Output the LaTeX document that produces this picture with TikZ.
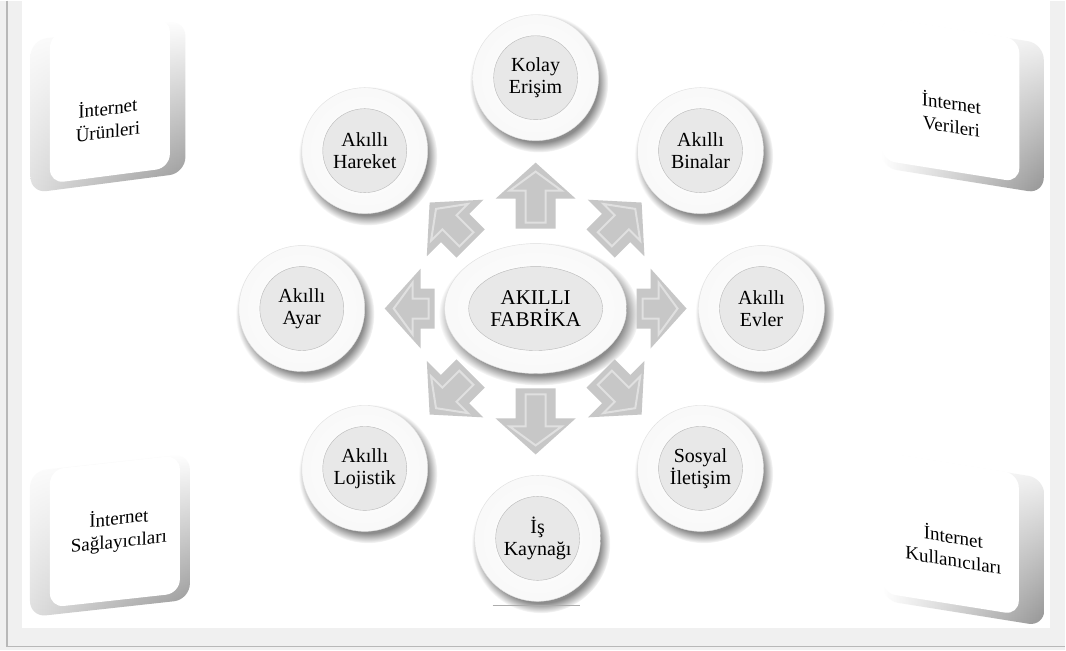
\documentclass[tikz,border=0pt]{standalone}
\usepackage{fontspec}
\setmainfont{Liberation Serif}
\usepackage{tikz}
\usetikzlibrary{shadows,fadings,shapes.geometric}
\definecolor{bggray}{rgb}{0.94,0.94,0.94}
\definecolor{linegray}{rgb}{0.72,0.72,0.72}
\definecolor{arrowgray}{rgb}{0.78,0.78,0.78}
\definecolor{arrowlite}{rgb}{0.88,0.88,0.88}
\definecolor{innergray}{rgb}{0.91,0.91,0.91}
\definecolor{sidegray}{rgb}{0.58,0.58,0.58}
\pgfdeclareradialshading{plate}{\pgfpoint{0bp}{0bp}}{color(0bp)=(white); color(30bp)=(white!97!black); color(50bp)=(white!82!black)}

\begin{document}
\begin{tikzpicture}[x=1pt,y=1pt,
  plate node/.style={circle,shading=plate,draw=gray!25,minimum size=126pt,inner sep=0pt,
    circular drop shadow={shadow xshift=3pt,shadow yshift=-5pt,fill=black!45}},
  word node/.style={circle,fill=innergray,draw=gray!55,minimum size=84pt,inner sep=0pt,align=center,
    font=\fontsize{20}{22}\selectfont},
  back node/.style={rectangle,rounded corners=16pt,path fading=north},
  face node/.style={rectangle,rounded corners=14pt,fill=white},
  label node/.style={align=center,inner sep=0pt,font=\fontsize{19}{23}\selectfont}]

  % frame
  \fill[bggray] (0,0) rectangle (1066,650);
  \fill[white] (22,22) rectangle (1051,650);
  \draw[linegray,line width=1.5pt] (7,650) -- (7,4) -- (1066,4);

  % internet boxes
  \node[back node,left color=gray!25,right color=sidegray,minimum width=155pt,minimum height=153pt,yslant=0.13] (urunB) at (108,544) {};
  \node[face node,minimum width=120pt,minimum height=150pt,yslant=0.13] (urunF) at (110,550) {};
  \node[label node,yslant=0.13] (urun) at (108,532) {İnternet\\Ürünleri};

  \node[back node,left color=white,right color=sidegray,minimum width=163pt,minimum height=150pt,yslant=-0.16] (veriB) at (963,545) {};
  \node[face node,minimum width=138pt,minimum height=143pt,yslant=-0.16] (veriF) at (951,551) {};
  \node[label node,yslant=-0.16] (veri) at (952,537) {İnternet\\Verileri};

  \node[back node,left color=gray!25,right color=sidegray,minimum width=160pt,minimum height=146pt,yslant=0.11] (saglaB) at (110,115) {};
  \node[face node,minimum width=130pt,minimum height=138pt,yslant=0.11] (saglaF) at (115,119) {};
  \node[label node,yslant=0.11] (sagla) at (119,120) {İnternet\\Sağlayıcıları};

  \node[back node,left color=white,right color=sidegray,minimum width=162pt,minimum height=148pt,yslant=-0.16] (kullB) at (964,111) {};
  \node[face node,minimum width=137pt,minimum height=141pt,yslant=-0.16] (kullF) at (951,117) {};
  \node[label node,yslant=-0.16] (kull) at (954,103) {İnternet\\Kullanıcıları};

  % centre
  \node[plate node,ellipse,minimum width=182pt,minimum height=130pt] (fabR) at (536,342) {};
  \node[word node,ellipse,minimum width=134pt,minimum height=84pt,font=\fontsize{21}{22}\selectfont] (fab) at (536,342) {AKILLI\\FABRİKA};

  % arrows
  \begin{scope}[shift={(fab.center)}]
  \foreach \a/\s/\t in {90/80/146,270/80/146,0/101/151,180/101/151,45/92/150,135/92/150,225/92/150,315/92/150}{
    \begin{scope}[rotate=\a]
      \fill[arrowgray] (\s,-20) -- (\t-36,-20) -- (\t-36,-40) -- (\t,0) -- (\t-36,40) -- (\t-36,20) -- (\s,20) -- cycle;
      \draw[arrowlite,line width=2pt] (\s+6,-10) -- (\t-28,-10) -- (\t-28,-26) -- (\t-9,0) -- (\t-28,26) -- (\t-28,10) -- (\s+6,10) -- cycle;
    \end{scope}}
  \end{scope}

  % ring
  \node[plate node] (kolayR) at (536,573) {};
  \node[word node] (kolay) at (536,573) {Kolay\\Erişim};
  \node[plate node] (hareketR) at (365,500) {};
  \node[word node] (hareket) at (365,500) {Akıllı\\Hareket};
  \node[plate node] (binalarR) at (701,500) {};
  \node[word node] (binalar) at (701,500) {Akıllı\\Binalar};
  \node[plate node] (ayarR) at (302,342) {};
  \node[word node] (ayar) at (302,342) {Akıllı\\Ayar};
  \node[plate node] (evlerR) at (762,342) {};
  \node[word node] (evler) at (762,342) {Akıllı\\Evler};
  \node[plate node] (lojistikR) at (365,182) {};
  \node[word node] (lojistik) at (365,182) {Akıllı\\Lojistik};
  \node[plate node] (sosyalR) at (701,182) {};
  \node[word node] (sosyal) at (701,182) {Sosyal\\İletişim};
  \node[plate node] (kaynakR) at (538,112) {};
  \node[word node] (kaynak) at (538,112) {İş\\Kaynağı};
  \draw[gray!65,line width=1.5pt] ([xshift=-45pt,yshift=-4pt]kaynakR.south) -- ([xshift=42pt,yshift=-4pt]kaynakR.south);
\end{tikzpicture}
\end{document}
